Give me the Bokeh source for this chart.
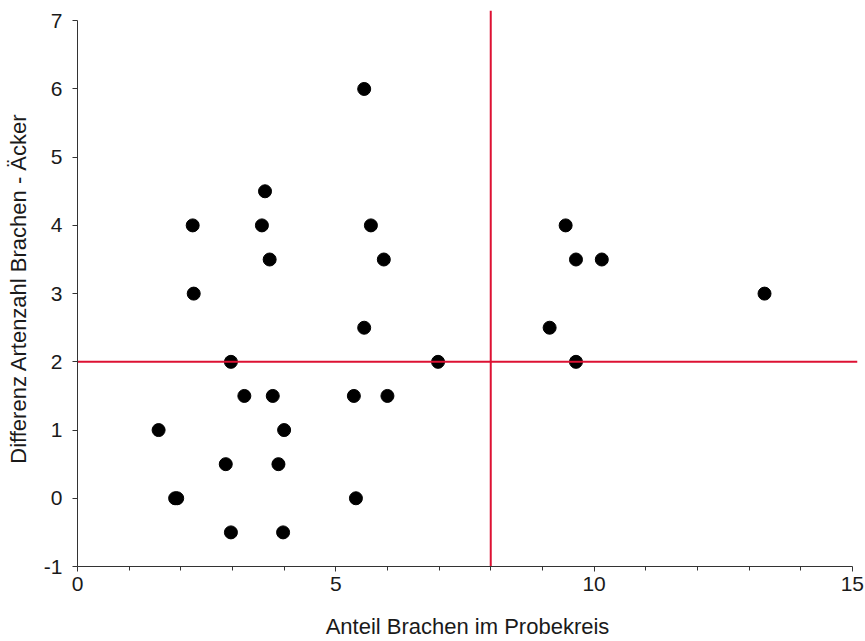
from bokeh.plotting import figure
from bokeh.models import Range1d, FixedTicker, ColumnDataSource
from bokeh.embed import file_html
from bokeh.resources import INLINE

# Data
x_vals = [5.55, 3.63, 2.23, 3.57, 5.68, 3.72, 5.93, 2.25, 5.55, 2.97, 6.98,
          3.23, 3.78, 5.35, 6.00, 1.57, 4.00, 2.87, 3.89, 1.89, 1.93, 5.39,
          2.97, 3.98, 9.45, 9.65, 10.15, 13.30, 9.14, 9.65]
y_vals = [6.0, 4.5, 4.0, 4.0, 4.0, 3.5, 3.5, 3.0, 2.5, 2.0, 2.0,
          1.5, 1.5, 1.5, 1.5, 1.0, 1.0, 0.5, 0.5, 0.0, 0.0, 0.0,
          -0.5, -0.5, 4.0, 3.5, 3.5, 3.0, 2.5, 2.0]

x_ticks = [0, 5, 10, 15]
x_minor = [1, 2, 3, 4, 6, 7, 8, 9, 11, 12, 13, 14]
y_ticks = [-1, 0, 1, 2, 3, 4, 5, 6, 7]
y_tick_labels = {-1: "-1"}

# reference lines
vline_x = [8, 8]
vline_y = [-1, 7.15]
hline_x = [0, 15.1]
hline_y = [2, 2]

x_label = "Anteil Brachen im Probekreis"
y_label = "Differenz Artenzahl Brachen - Äcker"

FONT = "Liberation Sans"
TXT = "#1a1a1a"

p = figure(frame_width=780, frame_height=556,
           x_range=Range1d(0, 15.1), y_range=Range1d(-1, 7.15),
           output_backend="svg", toolbar_location=None,
           min_border_left=77, min_border_right=8,
           min_border_top=10, min_border_bottom=75)
p.outline_line_color = None
p.grid.visible = False
p.background_fill_color = "white"
p.border_fill_color = "white"

src = ColumnDataSource(dict(x=x_vals, y=y_vals))
p.scatter("x", "y", source=src, size=13, color="black")

p.line(vline_x, vline_y, line_color="#dd1133", line_width=2)
p.line(hline_x, hline_y, line_color="#dd1133", line_width=2)

xa = p.xaxis[0]
xa.ticker = FixedTicker(ticks=x_ticks, minor_ticks=x_minor)
xa.bounds = (0, 15)
xa.axis_label = x_label
ya = p.yaxis[0]
ya.ticker = FixedTicker(ticks=y_ticks, minor_ticks=[])
ya.bounds = (-1, 7)
ya.axis_label = y_label
ya.major_label_overrides = y_tick_labels

for ax in (xa, ya):
    ax.axis_line_color = "#333333"
    ax.axis_line_width = 1
    ax.major_tick_line_color = "#333333"
    ax.minor_tick_line_color = "#333333"
    ax.major_tick_in = 0
    ax.major_tick_out = 5
    ax.minor_tick_in = 0
    ax.minor_tick_out = 4
    ax.major_label_text_font = FONT
    ax.major_label_text_font_size = "21px"
    ax.major_label_text_color = TXT
    ax.axis_label_text_font = FONT
    ax.axis_label_text_font_size = "22px"
    ax.axis_label_text_font_style = "normal"
    ax.axis_label_text_color = TXT

xa.major_label_standoff = 5
xa.axis_label_standoff = 20
ya.major_label_standoff = 10
ya.axis_label_standoff = 10

open("out.html", "w").write(file_html(p, INLINE))
